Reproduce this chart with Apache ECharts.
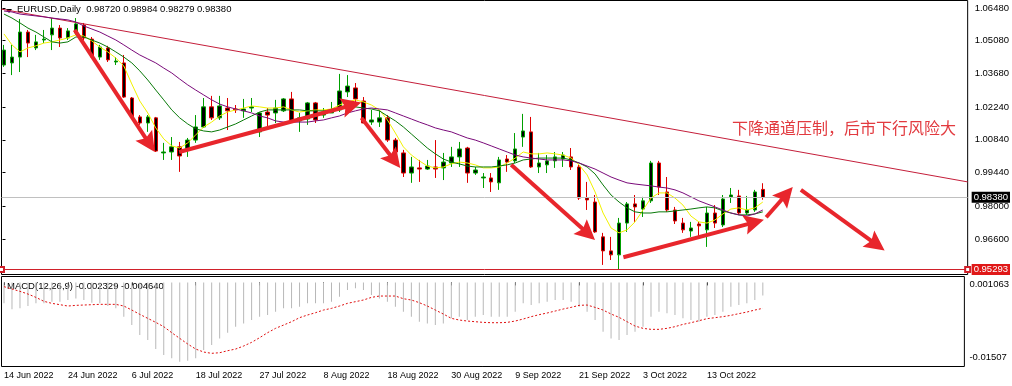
<!DOCTYPE html>
<html>
<head>
<meta charset="utf-8">
<script src="https://cdn.jsdelivr.net/npm/echarts@6/dist/echarts.min.js"></script>
<style>
html,body{margin:0;padding:0;background:#fff;}
#chart{width:1012px;height:386px;}
</style>
</head>
<body>
<div id="chart"></div>
<script>
// ---------------- data ----------------
const dates = [
 '14 Jun 2022','15 Jun 2022','16 Jun 2022','17 Jun 2022','20 Jun 2022','21 Jun 2022','22 Jun 2022','23 Jun 2022',
 '24 Jun 2022','27 Jun 2022','28 Jun 2022','29 Jun 2022','30 Jun 2022','1 Jul 2022','4 Jul 2022','5 Jul 2022',
 '6 Jul 2022','7 Jul 2022','8 Jul 2022','11 Jul 2022','12 Jul 2022','13 Jul 2022','14 Jul 2022','15 Jul 2022',
 '18 Jul 2022','19 Jul 2022','20 Jul 2022','21 Jul 2022','22 Jul 2022','24 Jul 2022','25 Jul 2022','26 Jul 2022',
 '27 Jul 2022','28 Jul 2022','29 Jul 2022','1 Aug 2022','2 Aug 2022','3 Aug 2022','4 Aug 2022','5 Aug 2022',
 '8 Aug 2022','9 Aug 2022','10 Aug 2022','11 Aug 2022','12 Aug 2022','15 Aug 2022','16 Aug 2022','17 Aug 2022',
 '18 Aug 2022','19 Aug 2022','22 Aug 2022','23 Aug 2022','24 Aug 2022','25 Aug 2022','26 Aug 2022','29 Aug 2022',
 '30 Aug 2022','31 Aug 2022','1 Sep 2022','2 Sep 2022','5 Sep 2022','6 Sep 2022','7 Sep 2022','8 Sep 2022',
 '9 Sep 2022','12 Sep 2022','13 Sep 2022','14 Sep 2022','15 Sep 2022','16 Sep 2022','19 Sep 2022','20 Sep 2022',
 '21 Sep 2022','22 Sep 2022','23 Sep 2022','26 Sep 2022','27 Sep 2022','28 Sep 2022','29 Sep 2022','30 Sep 2022',
 '3 Oct 2022','4 Oct 2022','5 Oct 2022','6 Oct 2022','7 Oct 2022','10 Oct 2022','11 Oct 2022','12 Oct 2022',
 '13 Oct 2022','14 Oct 2022','17 Oct 2022','18 Oct 2022','19 Oct 2022','20 Oct 2022','21 Oct 2022','24 Oct 2022'
];

const open = [
 1.0404,1.0413,1.0438,1.0545,1.0477,1.0511,1.0533,1.0562,1.0520,1.0541,
 1.0575,1.0515,1.0438,1.0477,1.0417,1.0413,1.0263,1.0182,1.0156,1.0178,
 1.0028,1.0032,1.0054,1.0045,1.0083,1.0139,1.0225,1.0178,1.0220,1.0216,
 1.0208,1.0220,1.0118,1.0203,1.0199,1.0208,1.0259,1.0165,1.0173,1.0242,
 1.0190,1.0199,1.0212,1.0289,1.0306,1.0250,1.0160,1.0160,1.0178,1.0083,
 1.0028,0.9942,0.9964,0.9959,0.9968,0.9964,0.9985,1.0011,1.0049,0.9942,
 0.9921,0.9921,0.9900,1.0002,0.9994,1.0096,1.0118,0.9968,0.9977,0.9994,
 1.0002,1.0011,0.9968,0.9835,0.9818,0.9669,0.9609,0.9592,0.9728,0.9810,
 0.9788,0.9823,0.9985,0.9861,0.9784,0.9728,0.9694,0.9724,0.9699,0.9771,
 0.9720,0.9840,0.9844,0.9771,0.9784,0.98720
];
const high = [
 1.0490,1.0490,1.0601,1.0554,1.0533,1.0554,1.0605,1.0575,1.0562,1.0605,
 1.0584,1.0524,1.0490,1.0486,1.0438,1.0447,1.0267,1.0190,1.0190,1.0182,
 1.0071,1.0096,1.0075,1.0092,1.0190,1.0263,1.0272,1.0272,1.0263,1.0233,
 1.0259,1.0263,1.0203,1.0220,1.0255,1.0263,1.0289,1.0199,1.0246,1.0246,
 1.0220,1.0246,1.0366,1.0361,1.0327,1.0267,1.0212,1.0212,1.0190,1.0092,
 1.0041,1.0011,0.9998,0.9998,1.0083,1.0028,1.0054,1.0075,1.0054,0.9968,
 0.9942,0.9942,1.0011,1.0019,1.0113,1.0195,1.0182,1.0028,1.0019,1.0032,
 1.0032,1.0049,0.9977,0.9904,0.9848,0.9686,0.9669,0.9750,0.9818,0.9848,
 0.9840,0.9994,0.9994,0.9925,0.9797,0.9750,0.9733,0.9733,0.9797,0.9805,
 0.9848,0.9878,0.9870,0.9844,0.9870,0.98984
];
const low = [
 1.0396,1.0361,1.0374,1.0438,1.0468,1.0498,1.0468,1.0481,1.0511,1.0533,
 1.0511,1.0434,1.0426,1.0417,1.0404,1.0263,1.0178,1.0148,1.0118,1.0032,
 0.9998,0.9998,0.9947,1.0011,1.0071,1.0135,1.0169,1.0169,1.0126,1.0199,
 1.0178,1.0203,1.0096,1.0139,1.0156,1.0203,1.0156,1.0118,1.0148,1.0156,
 1.0178,1.0199,1.0203,1.0267,1.0246,1.0156,1.0148,1.0139,1.0075,1.0019,
 0.9925,0.9900,0.9904,0.9955,0.9921,0.9912,0.9968,0.9968,0.9900,0.9934,
 0.9878,0.9861,0.9870,0.9947,0.9985,1.0054,0.9964,0.9942,0.9942,0.9964,
 0.9968,0.9955,0.9827,0.9784,0.9686,0.9549,0.9570,0.95293,0.9690,0.9733,
 0.9754,0.9814,0.9848,0.9776,0.9724,0.9686,0.9669,0.9664,0.9626,0.9707,
 0.9711,0.9814,0.9763,0.9763,0.9776,0.98279
];
const close = [
 1.0468,1.0438,1.0545,1.0498,1.0503,1.0515,1.0562,1.0520,1.0550,1.0580,
 1.0520,1.0438,1.0481,1.0426,1.0421,1.0267,1.0182,1.0156,1.0182,1.0036,
 1.0032,1.0054,1.0015,1.0083,1.0139,1.0225,1.0178,1.0229,1.0208,1.0212,
 1.0216,1.0225,1.0199,1.0190,1.0220,1.0259,1.0160,1.0178,1.0242,1.0169,
 1.0203,1.0212,1.0293,1.0314,1.0259,1.0156,1.0169,1.0178,1.0083,1.0032,
 0.9942,0.9968,0.9959,0.9972,0.9959,0.9989,1.0011,1.0045,0.9942,0.9955,
 0.9925,0.9904,0.9998,0.9989,1.0045,1.0122,0.9968,0.9985,0.9994,1.0011,
 1.0019,0.9968,0.9835,0.9827,0.9690,0.9609,0.9592,0.9728,0.9810,0.9797,
 0.9823,0.9985,0.9882,0.9784,0.9737,0.9699,0.9707,0.9716,0.9771,0.9728,
 0.9831,0.9848,0.9771,0.9784,0.9861,0.98380
];

// moving averages (yellow / green / purple)
const maFast = [
 1.0537,1.0490,1.0460,1.0477,1.0486,1.0498,1.0503,1.0511,1.0520,1.0533,
 1.0528,1.0507,1.0481,1.0460,1.0434,1.0400,1.0323,1.0250,1.0199,1.0135,
 1.0088,1.0058,1.0049,1.0071,1.0105,1.0139,1.0160,1.0186,1.0203,1.0212,
 1.0220,1.0229,1.0225,1.0220,1.0220,1.0225,1.0212,1.0203,1.0208,1.0212,
 1.0212,1.0216,1.0233,1.0246,1.0255,1.0246,1.0233,1.0212,1.0169,1.0113,
 1.0054,1.0019,0.9994,0.9972,0.9964,0.9968,0.9981,0.9989,0.9985,0.9977,
 0.9964,0.9964,0.9968,0.9985,1.0006,1.0032,1.0024,1.0024,1.0028,1.0024,
 1.0019,1.0006,0.9977,0.9934,0.9861,0.9771,0.9707,0.9686,0.9699,0.9733,
 0.9784,0.9835,0.9857,0.9857,0.9835,0.9805,0.9758,0.9733,0.9728,0.9741,
 0.9767,0.9788,0.9793,0.9784,0.9793,0.9818
];
const maMid = [
 1.0622,1.0605,1.0584,1.0562,1.0545,1.0524,1.0503,1.0498,1.0503,1.0524,
 1.0524,1.0511,1.0498,1.0481,1.0460,1.0438,1.0413,1.0379,1.0340,1.0297,
 1.0255,1.0212,1.0178,1.0152,1.0131,1.0122,1.0118,1.0126,1.0139,1.0152,
 1.0169,1.0186,1.0203,1.0212,1.0212,1.0212,1.0212,1.0212,1.0208,1.0208,
 1.0208,1.0212,1.0220,1.0225,1.0225,1.0220,1.0216,1.0208,1.0186,1.0165,
 1.0139,1.0109,1.0079,1.0049,1.0024,1.0002,0.9989,0.9981,0.9972,0.9968,
 0.9968,0.9968,0.9972,0.9977,0.9985,0.9998,1.0002,1.0006,1.0006,1.0006,
 1.0006,0.9998,0.9985,0.9968,0.9938,0.9891,0.9848,0.9818,0.9793,0.9776,
 0.9771,0.9771,0.9776,0.9776,0.9780,0.9784,0.9788,0.9793,0.9797,0.9793,
 0.9780,0.9771,0.9763,0.9763,0.9767,0.9776
];
const maSlow = [
 1.0635,1.0631,1.0622,1.0618,1.0614,1.0610,1.0605,1.0601,1.0597,1.0588,
 1.0571,1.0558,1.0545,1.0528,1.0511,1.0490,1.0468,1.0447,1.0430,1.0413,
 1.0391,1.0370,1.0344,1.0319,1.0297,1.0276,1.0255,1.0237,1.0225,1.0216,
 1.0208,1.0199,1.0186,1.0178,1.0165,1.0160,1.0160,1.0160,1.0160,1.0165,
 1.0169,1.0178,1.0186,1.0199,1.0208,1.0216,1.0220,1.0216,1.0212,1.0199,
 1.0186,1.0173,1.0160,1.0148,1.0135,1.0126,1.0118,1.0105,1.0092,1.0083,
 1.0071,1.0058,1.0045,1.0032,1.0019,1.0011,1.0006,1.0002,0.9998,0.9998,
 0.9998,0.9994,0.9985,0.9972,0.9959,0.9942,0.9925,0.9912,0.9900,0.9895,
 0.9891,0.9887,0.9882,0.9878,0.9870,0.9857,0.9840,0.9823,0.9810,0.9797,
 0.9784,0.9771,0.9763,0.9758,0.9767,0.9784
];

// MACD(12,26,9): main (histogram) and signal (dotted)
const macdMain = [
 -0.00375,-0.00483,-0.00465,-0.00423,-0.00375,-0.00375,-0.00345,-0.00345,-0.00315,-0.00286,
 -0.00315,-0.00363,-0.00375,-0.00423,-0.00465,-0.00614,-0.00764,-0.00943,-0.01032,-0.01194,
 -0.01301,-0.01361,-0.01421,-0.01403,-0.01361,-0.01212,-0.01122,-0.01003,-0.00901,-0.00793,
 -0.00734,-0.00674,-0.00614,-0.00584,-0.00525,-0.00465,-0.00465,-0.00435,-0.00375,-0.00375,
 -0.00375,-0.00345,-0.00256,-0.00136,-0.00106,-0.00136,-0.00226,-0.00286,-0.00345,-0.00435,
 -0.00525,-0.00614,-0.00704,-0.00734,-0.00764,-0.00734,-0.00644,-0.00614,-0.00674,-0.00614,
 -0.00584,-0.00614,-0.00614,-0.00614,-0.00525,-0.00375,-0.00405,-0.00375,-0.00345,-0.00315,
 -0.00315,-0.00345,-0.00435,-0.00525,-0.00674,-0.00883,-0.01003,-0.01032,-0.00943,-0.00883,
 -0.00793,-0.00614,-0.00525,-0.00554,-0.00584,-0.00644,-0.00674,-0.00704,-0.00614,-0.00584,
 -0.00525,-0.00435,-0.00405,-0.00375,-0.00315,-0.002329
];
const macdSignal = [
 -0.00076,-0.00118,-0.00160,-0.00208,-0.00268,-0.00339,-0.00375,-0.00399,-0.00423,-0.00411,
 -0.00405,-0.00399,-0.00393,-0.00393,-0.00393,-0.00423,-0.00495,-0.00572,-0.00644,-0.00716,
 -0.00793,-0.00901,-0.01003,-0.01104,-0.01194,-0.01248,-0.01271,-0.01260,-0.01224,-0.01194,
 -0.01140,-0.01074,-0.00991,-0.00901,-0.00823,-0.00764,-0.00704,-0.00632,-0.00584,-0.00543,
 -0.00495,-0.00465,-0.00423,-0.00375,-0.00345,-0.00315,-0.00268,-0.00244,-0.00244,-0.00244,
 -0.00292,-0.00315,-0.00363,-0.00423,-0.00495,-0.00566,-0.00644,-0.00674,-0.00692,-0.00704,
 -0.00716,-0.00722,-0.00722,-0.00716,-0.00692,-0.00656,-0.00614,-0.00578,-0.00548,-0.00513,
 -0.00477,-0.00447,-0.00411,-0.00405,-0.00447,-0.00495,-0.00566,-0.00626,-0.00704,-0.00782,
 -0.00823,-0.00841,-0.00841,-0.00823,-0.00793,-0.00752,-0.00722,-0.00686,-0.00650,-0.00632,
 -0.00614,-0.00590,-0.00560,-0.00531,-0.00495,-0.00464
];

// axes, levels and drawn objects (x in bar index units, y in price)
const priceTicks = [1.0648, 1.0508, 1.0368, 1.0224, 1.0084, 0.9944, 0.9800, 0.9660];
const priceRange = [0.9508, 1.0680];
const macdRange = [-0.01507, 0.001063];
const barRange = [-0.125, 121.25];
const currentPrice = 0.98380;
const lowLevel = 0.95293;
const trendLine = [[-0.125, 1.0643], [121.25, 0.9904]];
const arrows = [
 [[9.06, 1.0554], [18.44, 1.0068]],
 [[22.19, 1.0032], [43.85, 1.0232]],
 [[45.1, 1.0178], [49.2, 0.9997]],
 [[63.9, 0.9977], [73.5, 0.9684]],
 [[78.0, 0.9582], [94.44, 0.9731]],
 [[95.94, 0.9753], [98.45, 0.9850]],
 [[100.3, 0.9870], [109.8, 0.9636]]
];
const symbolName = 'EURUSD,Daily';
const macdName = 'MACD(12,26,9)';
const note = '下降通道压制，后市下行风险大';

// ---------------- chart ----------------
const slotCount = 122;
const slots = dates.concat(new Array(slotCount - dates.length).fill(''));
const last = dates.length - 1;
const latin = "'Liberation Sans', Arial, sans-serif";
const every8 = (i, v) => v !== '' && i % 8 === 0;

const chart = echarts.init(document.getElementById('chart'), null, {renderer: 'canvas'});

const option = {
  animation: false,
  backgroundColor: '#ffffff',
  grid: [
    {left: 1.5, top: 0.5, width: 971, height: 274, show: true, borderColor: '#000', borderWidth: 1, containLabel: false},
    {left: -1.5, top: 0.5, width: 976, height: 274, containLabel: false},
    {left: 1.5, top: 276.5, width: 971, height: 90, show: true, borderColor: '#000', borderWidth: 1, containLabel: false},
    {left: -1.5, top: 276.5, width: 976, height: 90, containLabel: false}
  ],
  xAxis: [
    {gridIndex: 0, type: 'value', min: barRange[0], max: barRange[1], show: false, splitLine: {show: false}},
    {gridIndex: 1, type: 'category', data: slots, boundaryGap: true, show: false},
    {gridIndex: 2, type: 'value', min: barRange[0], max: barRange[1], show: false, splitLine: {show: false}},
    {gridIndex: 3, type: 'category', data: slots, boundaryGap: true,
      axisLine: {show: false},
      axisTick: {show: true, interval: every8, alignWithLabel: true, length: 3, lineStyle: {color: '#000'}},
      axisLabel: {interval: every8, align: 'left', margin: 5, fontSize: 9, fontFamily: latin, color: '#000'},
      splitLine: {show: false}}
  ],
  yAxis: [
    {gridIndex: 0, type: 'value', min: priceRange[0], max: priceRange[1], position: 'right',
      axisLine: {show: false}, splitLine: {show: false},
      axisTick: {show: true, customValues: priceTicks, length: 3, lineStyle: {color: '#000'}},
      axisLabel: {customValues: priceTicks, formatter: v => v.toFixed(5), margin: 7, fontSize: 9.5, fontFamily: latin, color: '#000'}},
    {gridIndex: 1, type: 'value', min: priceRange[0], max: priceRange[1], show: false, splitLine: {show: false}},
    {gridIndex: 2, type: 'value', min: macdRange[0], max: macdRange[1], position: 'right',
      axisLine: {show: false}, splitLine: {show: false}, axisTick: {show: false},
      axisLabel: {customValues: [macdRange[1]], formatter: v => v.toFixed(6), verticalAlign: 'top', padding: [3, 0, 0, 0],
        showMinLabel: true, showMaxLabel: true, margin: 5, fontSize: 9.5, fontFamily: latin, color: '#000'}},
    {gridIndex: 2, type: 'value', min: macdRange[0], max: macdRange[1], position: 'right',
      axisLine: {show: false}, splitLine: {show: false}, axisTick: {show: false},
      axisLabel: {customValues: [macdRange[0]], formatter: v => v.toFixed(5), verticalAlign: 'bottom', padding: [0, 0, 4, 0],
        showMinLabel: true, showMaxLabel: true, margin: 5, fontSize: 9.5, fontFamily: latin, color: '#000'}},
    {gridIndex: 3, type: 'value', min: macdRange[0], max: macdRange[1], show: false, splitLine: {show: false}}
  ],
  graphic: [
    {type: 'polygon', shape: {points: [[6, 9], [12, 9], [9, 13]]}, style: {fill: '#000'}},
    {type: 'text', left: 17, top: 4.5, style: {
      text: symbolName + '  ' + [open[last], high[last], low[last], close[last]].map(v => v.toFixed(5)).join(' '),
      fontSize: 9.5, fontFamily: latin, fill: '#000'}},
    {type: 'text', left: 7, top: 281.5, style: {
      text: macdName + ' ' + macdMain[last].toFixed(6) + ' ' + macdSignal[last].toFixed(6),
      fontSize: 9.5, fontFamily: latin, fill: '#000'}},
    {type: 'text', left: 732, top: 119.5, z: 20, style: {
      text: note, fontSize: 16, fontFamily: "'Noto Sans CJK SC', sans-serif", fill: '#e23a3f'}}
  ],
  series: [
    {
      name: 'trend', type: 'line', xAxisIndex: 0, yAxisIndex: 0, data: trendLine,
      symbol: 'none', silent: true, lineStyle: {color: '#c41e3a', width: 1},
      markLine: {
        silent: true, animation: false, symbol: 'none',
        data: [
          [
            {coord: [barRange[0], currentPrice], lineStyle: {color: '#c0c0c0', width: 1, type: 'solid'},
             label: {show: true, position: 'end', distance: 4, formatter: () => currentPrice.toFixed(5),
               color: '#fff', backgroundColor: '#000', padding: [1, 2, 0, 2], fontSize: 9.5, fontFamily: latin}},
            {coord: [barRange[1], currentPrice]}
          ],
          [
            {coord: [barRange[0], lowLevel], symbol: 'emptyRect', symbolSize: 5,
             lineStyle: {color: '#d0202a', width: 1, type: 'solid'},
             label: {show: true, position: 'end', distance: 4, formatter: () => lowLevel.toFixed(5),
               color: '#fff', backgroundColor: '#e01818', padding: [1, 2, 0, 2], fontSize: 9.5, fontFamily: latin}},
            {coord: [barRange[1], lowLevel], symbol: 'emptyRect', symbolSize: 5}
          ]
        ]
      }
    },
    {
      name: 'EURUSD', type: 'candlestick', xAxisIndex: 1, yAxisIndex: 1,
      data: dates.map((d, i) => [open[i], close[i], low[i], high[i]]),
      barWidth: 4, silent: true,
      itemStyle: {color: '#000', color0: '#000', borderColor: '#00a000', borderColor0: '#e00000', borderWidth: 1}
    },
    {name: 'MA fast', type: 'line', xAxisIndex: 1, yAxisIndex: 1, data: maFast, symbol: 'none', silent: true,
      lineStyle: {color: '#f2f200', width: 1}},
    {name: 'MA mid', type: 'line', xAxisIndex: 1, yAxisIndex: 1, data: maMid, symbol: 'none', silent: true,
      lineStyle: {color: '#0a7a0a', width: 1}},
    {name: 'MA slow', type: 'line', xAxisIndex: 1, yAxisIndex: 1, data: maSlow, symbol: 'none', silent: true,
      lineStyle: {color: '#7a0a7a', width: 1}},
    {
      name: 'arrows', type: 'lines', coordinateSystem: 'cartesian2d', xAxisIndex: 0, yAxisIndex: 0, z: 10,
      data: arrows.map(a => ({coords: a})),
      symbol: ['none', 'path://M10 0 L20 22 L10 18 L0 22 Z'], symbolSize: 20, silent: true,
      lineStyle: {color: '#e8262c', width: 4, opacity: 1, curveness: 0}
    },
    {name: 'MACD', type: 'bar', xAxisIndex: 3, yAxisIndex: 4, data: macdMain, barWidth: 1, silent: true,
      itemStyle: {color: '#b8b8b8'}},
    {name: 'Signal', type: 'line', xAxisIndex: 3, yAxisIndex: 4, data: macdSignal, symbol: 'none', silent: true,
      lineStyle: {color: '#e01010', width: 1, type: [2, 2]}}
  ]
};
chart.setOption(option);
</script>
</body>
</html>
